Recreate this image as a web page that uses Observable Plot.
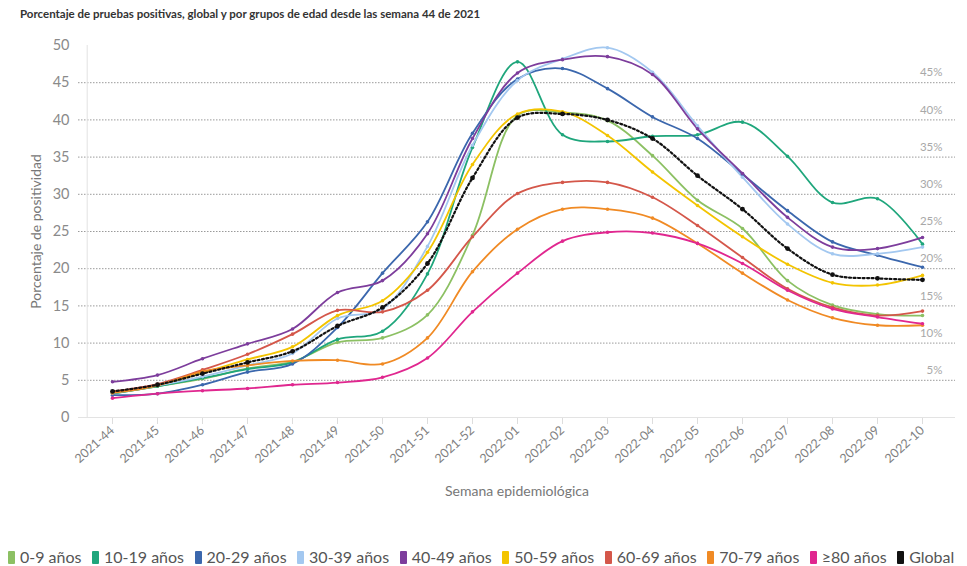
<!DOCTYPE html>
<html>
<head>
<meta charset="utf-8">
<script src="https://cdn.jsdelivr.net/npm/d3@7"></script>
<script src="https://cdn.jsdelivr.net/npm/@observablehq/plot@0.6"></script>
<style>
  body { margin: 0; background: #fff; font-family: Lato, "Open Sans", sans-serif; width: 967px; overflow: hidden; }
  #title { height: 28px; line-height: 28px; padding-left: 20px; font-size: 11.5px; font-weight: bold; color: #333; white-space: nowrap; }
  #legend { margin-top: 30px; height: 18px; line-height: 18px; padding-left: 8px; font-size: 16px; color: #555; white-space: nowrap; display: flex; align-items: center; }
  #legend .item { display: inline-flex; align-items: center; margin-right: 10.5px; }
  #legend .sw { display: inline-block; width: 7px; height: 13px; border-radius: 1px; margin-right: 5px; }
  svg [aria-label="x-axis tick"] { stroke: #ddd; }
  svg g[aria-label="x-axis tick label"], svg g[aria-label="x-axis"] .tick text { font-size: 12.5px; fill: #808080; }
  svg g[aria-label="y-axis tick label"], svg g[aria-label="y-axis"] .tick text { font-size: 14.5px; fill: #8a8a8a; }
  svg g[aria-label="y-axis label"], svg g[aria-label="y-axis"] .label { font-size: 14px; fill: #777; }
</style>
</head>
<body>
<div id="title">Porcentaje de pruebas positivas, global y por grupos de edad desde las semana 44 de 2021</div>
<div id="chart"></div>
<div id="legend"></div>
<script>
const weeks = ["2021-44","2021-45","2021-46","2021-47","2021-48","2021-49","2021-50","2021-51","2021-52",
  "2022-01","2022-02","2022-03","2022-04","2022-05","2022-06","2022-07","2022-08","2022-09","2022-10"];

const seriesNames = ["0-9 años","10-19 años","20-29 años","30-39 años","40-49 años","50-59 años","60-69 años","70-79 años","≥80 años","Global"];
const seriesColors = ["#8cc063","#1fa67c","#3b67ad","#a3c8f0","#7d3d9c","#f3c400","#d4574a","#f08a24","#e0278f","#111111"];

const v0_9   = [3.2,4.2,5.2,6.6,7.5,10.1,10.7,13.8,24.5,40.6,41.0,39.9,35.2,29.2,25.4,18.4,15.1,13.9,13.7];
const v10_19 = [3.2,4.2,5.3,6.5,7.4,10.5,11.6,19.3,36.3,47.8,38.0,37.1,37.8,38.0,39.7,35.1,28.9,29.4,23.3];
const v20_29 = [3.0,3.2,4.4,6.1,7.2,12.1,19.4,26.3,38.2,45.5,46.9,44.2,40.4,37.5,32.7,27.8,23.6,21.8,20.2];
const v30_39 = [3.3,4.3,5.5,7.0,8.6,13.3,14.6,23.0,36.6,45.3,48.2,49.7,46.4,39.2,32.3,26.0,22.0,22.0,22.9];
const v40_49 = [4.8,5.7,7.9,9.9,11.9,16.8,18.4,24.7,37.5,46.3,48.1,48.5,46.1,38.8,32.8,26.9,22.9,22.7,24.2];
const v50_59 = [3.4,4.4,6.0,7.8,9.5,13.7,15.7,22.2,34.0,40.8,41.1,37.9,33.0,28.5,24.3,20.6,18.1,17.8,19.1];
const v60_69 = [3.5,4.5,6.4,8.5,11.2,14.4,14.2,17.1,24.3,30.1,31.6,31.6,29.6,25.8,21.5,17.3,14.8,13.7,14.3];
const v70_79 = [3.3,4.3,6.2,7.0,7.6,7.7,7.2,10.7,19.6,25.3,28.0,28.0,26.8,23.4,19.4,15.8,13.4,12.4,12.4];
const v80    = [2.6,3.2,3.6,3.9,4.4,4.7,5.4,8.0,14.2,19.4,23.7,24.9,24.8,23.4,20.7,17.1,14.6,13.5,12.6];
const vGlobal= [3.5,4.4,5.9,7.4,8.9,12.3,14.8,20.7,32.2,40.3,40.8,40.0,37.5,32.5,28.0,22.7,19.2,18.7,18.5];

const yTicks = [0,5,10,15,20,25,30,35,40,45,50];
const gridValues = [5,10,15,20,25,30,35,40,45];
const gridLabels = ["5%","10%","15%","20%","25%","30%","35%","40%","45%"];

const allValues = [v0_9,v10_19,v20_29,v30_39,v40_49,v50_59,v60_69,v70_79,v80,vGlobal];
const rows = [];
allValues.forEach((vals, si) => vals.forEach((v, i) => rows.push({series: seriesNames[si], week: weeks[i], value: v})));
const groups = rows.filter(d => d.series !== "Global");
const global = rows.filter(d => d.series === "Global");
const gridTable = gridValues.map((v, i) => ({value: v, label: gridLabels[i]}));

const chart = Plot.plot({
  width: 967,
  height: 490,
  marginTop: 17,
  marginBottom: 101,
  marginLeft: 78,
  marginRight: 12,
  style: {fontFamily: "Lato, 'Open Sans', sans-serif", color: "#888", background: "#fff"},
  x: {type: "point", domain: weeks, padding: 0.55, tickRotate: -42, tickSize: 7, tickPadding: 4, label: null},
  y: {domain: [0, 50], ticks: yTicks, tickSize: 0, tickPadding: 9, label: "Porcentaje de positividad", labelAnchor: "center", labelOffset: 47, labelArrow: "none"},
  color: {domain: seriesNames, range: seriesColors},
  marks: [
    Plot.ruleY(gridTable, {y: "value", stroke: "#9a9a9a", strokeWidth: 1, strokeDasharray: "1.5,1.5"}),
    Plot.ruleY([0], {stroke: "#e3e3e3", strokeWidth: 1}),
    Plot.ruleX([weeks[0]], {dx: -25.3, y1: 0, y2: 50, stroke: "#e3e3e3", strokeWidth: 1}),
    Plot.text(gridTable, {x: () => weeks[weeks.length - 1], y: "value", text: "label", dx: 20, dy: -10, textAnchor: "end", fill: "#a8a8a8", fontSize: 11.5}),
    Plot.line(groups, {x: "week", y: "value", z: "series", stroke: "series", curve: "catmull-rom", strokeWidth: 1.8}),
    Plot.dot(groups, {x: "week", y: "value", fill: "series", r: 1.8}),
    Plot.line(global, {x: "week", y: "value", stroke: "#111", curve: "catmull-rom", strokeWidth: 2.2, strokeDasharray: "2,2.5"}),
    Plot.dot(global, {x: "week", y: "value", fill: "#111", r: 2.4}),
    Plot.text(["Semana epidemiológica"], {frameAnchor: "bottom", dy: 78, fill: "#777", fontSize: 14})
  ]
});
chart.querySelectorAll("text").forEach(t => {
  if (t.textContent.includes("→") || t.textContent.includes("↑")) t.textContent = t.textContent.replace(/\s*[→↑]\s*/g, "");
});
document.getElementById("chart").appendChild(chart);

const legend = document.getElementById("legend");
seriesNames.forEach((n, i) => {
  const item = document.createElement("span");
  item.className = "item";
  const sw = document.createElement("span");
  sw.className = "sw";
  sw.style.background = seriesColors[i];
  item.appendChild(sw);
  item.appendChild(document.createTextNode(n));
  legend.appendChild(item);
});
</script>
</body>
</html>
